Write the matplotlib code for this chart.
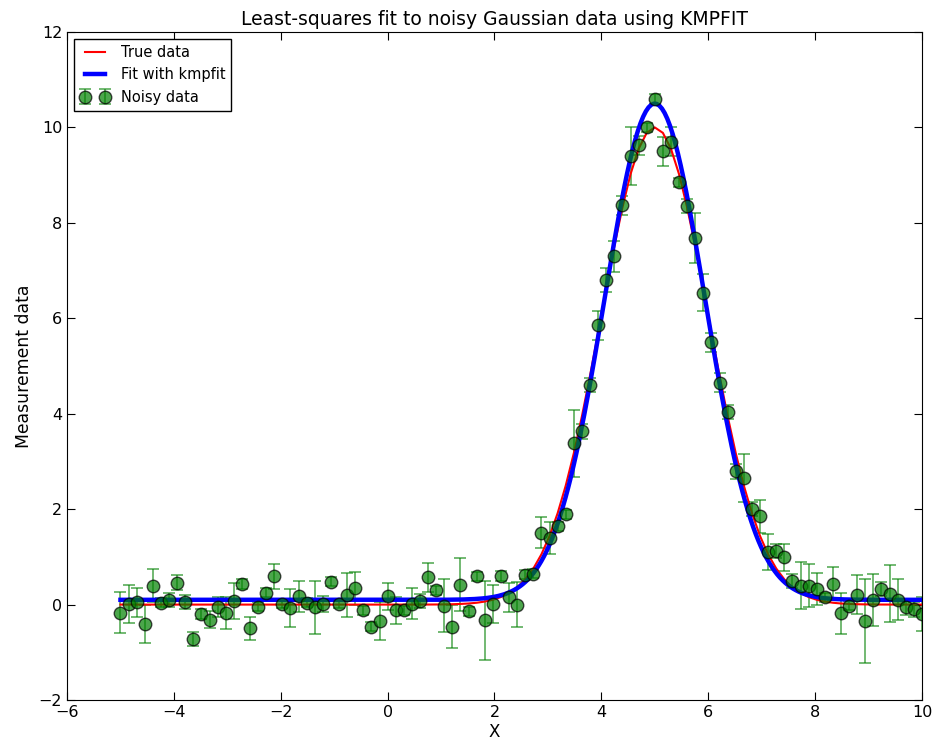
import numpy as np
import matplotlib
matplotlib.use("Agg")
import matplotlib.pyplot as plt


# x positions of the measurements (evenly spaced from -5 to 10)
x_data = np.linspace(-5, 10, 100)

y_data = [-0.17, 0.02, 0.05, -0.40, 0.40, 0.04, 0.10, 0.46, 0.06, -0.72,
          -0.20, -0.32, -0.05, -0.18, 0.08, 0.43, -0.50, -0.04, 0.25, 0.59,
          0.02, -0.07, 0.17, 0.04, -0.06, 0.02, 0.48, 0.02, 0.20, 0.34,
          -0.12, -0.46, -0.35, 0.17, -0.12, -0.12, 0.02, 0.08, 0.57, 0.30,
          -0.02, -0.46, 0.42, -0.14, 0.59, -0.33, 0.02, 0.60, 0.15, 0.00,
          0.63, 0.65, 1.51, 1.40, 1.64, 1.89, 3.38, 3.63, 4.60, 5.85,
          6.80, 7.30, 8.37, 9.40, 9.63, 10.00, 10.60, 9.50, 9.70, 8.85,
          8.35, 7.68, 6.54, 5.50, 4.65, 4.03, 2.79, 2.66, 2.01, 1.85,
          1.10, 1.13, 0.99, 0.50, 0.40, 0.40, 0.33, 0.15, 0.44, -0.18,
          -0.02, 0.21, -0.35, 0.10, 0.33, 0.23, 0.10, -0.06, -0.10, -0.20]

# half-length of the error bars
y_err = [0.43, 0.40, 0.30, 0.40, 0.35, 0.10, 0.15, 0.15, 0.15, 0.15,
         0.10, 0.18, 0.20, 0.33, 0.38, 0.10, 0.25, 0.10, 0.10, 0.27,
         0.10, 0.40, 0.32, 0.10, 0.56, 0.17, 0.10, 0.10, 0.46, 0.34,
         0.10, 0.10, 0.40, 0.28, 0.28, 0.10, 0.32, 0.15, 0.31, 0.10,
         0.56, 0.45, 0.56, 0.10, 0.10, 0.83, 0.40, 0.10, 0.30, 0.48,
         0.10, 0.10, 0.33, 0.33, 0.10, 0.10, 0.70, 0.15, 0.15, 0.30,
         0.25, 0.32, 0.20, 0.60, 0.20, 0.10, 0.10, 0.30, 0.30, 0.10,
         0.15, 0.52, 0.39, 0.20, 0.20, 0.15, 0.15, 0.50, 0.15, 0.35,
         0.38, 0.15, 0.29, 0.15, 0.50, 0.46, 0.33, 0.10, 0.35, 0.43,
         0.10, 0.40, 0.88, 0.55, 0.15, 0.60, 0.43, 0.15, 0.15, 0.35]

# gaussian model parameters: amplitude, centre, width, zero level
true_pars = [10.0, 5.0, 1.0, 0.0]
fit_pars = [10.4, 5.0, 0.94, 0.1]


def model(p, x):
    A, mu, sigma, zerolev = p
    return A * np.exp(-(x - mu) * (x - mu) / (2 * sigma * sigma)) + zerolev


fig = plt.figure(figsize=(9.36, 7.44), dpi=100)
ax = fig.add_axes([0.0716, 0.0591, 0.9134, 0.8979])

noisy = ax.errorbar(x_data, y_data, yerr=y_err, fmt='o', color='g', mec='k', ms=9,
                    alpha=0.7, capsize=4, elinewidth=1.1, capthick=1.1)
true_line, = ax.plot(x_data, model(true_pars, x_data), 'r', lw=1.5)
xfine = np.linspace(-5, 10, 300)
fit_line, = ax.plot(xfine, model(fit_pars, xfine), 'b', lw=3.2)

ax.set_xlim(-6, 10)
ax.set_ylim(-2, 12)
ax.set_xticks(np.arange(-6, 11, 2))
ax.set_yticks(np.arange(-2, 13, 2))
ax.tick_params(direction='in', top=True, right=True, length=6, labelsize=11.5)
ax.set_xlabel("X", fontsize=12, labelpad=2)
ax.set_ylabel("Measurement data", fontsize=12.4)
ax.set_title("Least-squares fit to noisy Gaussian data using KMPFIT", fontsize=13.5, pad=5)

leg = ax.legend([true_line, fit_line, noisy], ["True data", "Fit with kmpfit", "Noisy data"],
                loc='upper left', numpoints=2, fontsize=10.5, fancybox=False,
                edgecolor='k', framealpha=1, borderaxespad=0.5)
leg.get_frame().set_linewidth(1.0)

plt.savefig("out.png", dpi=100)
